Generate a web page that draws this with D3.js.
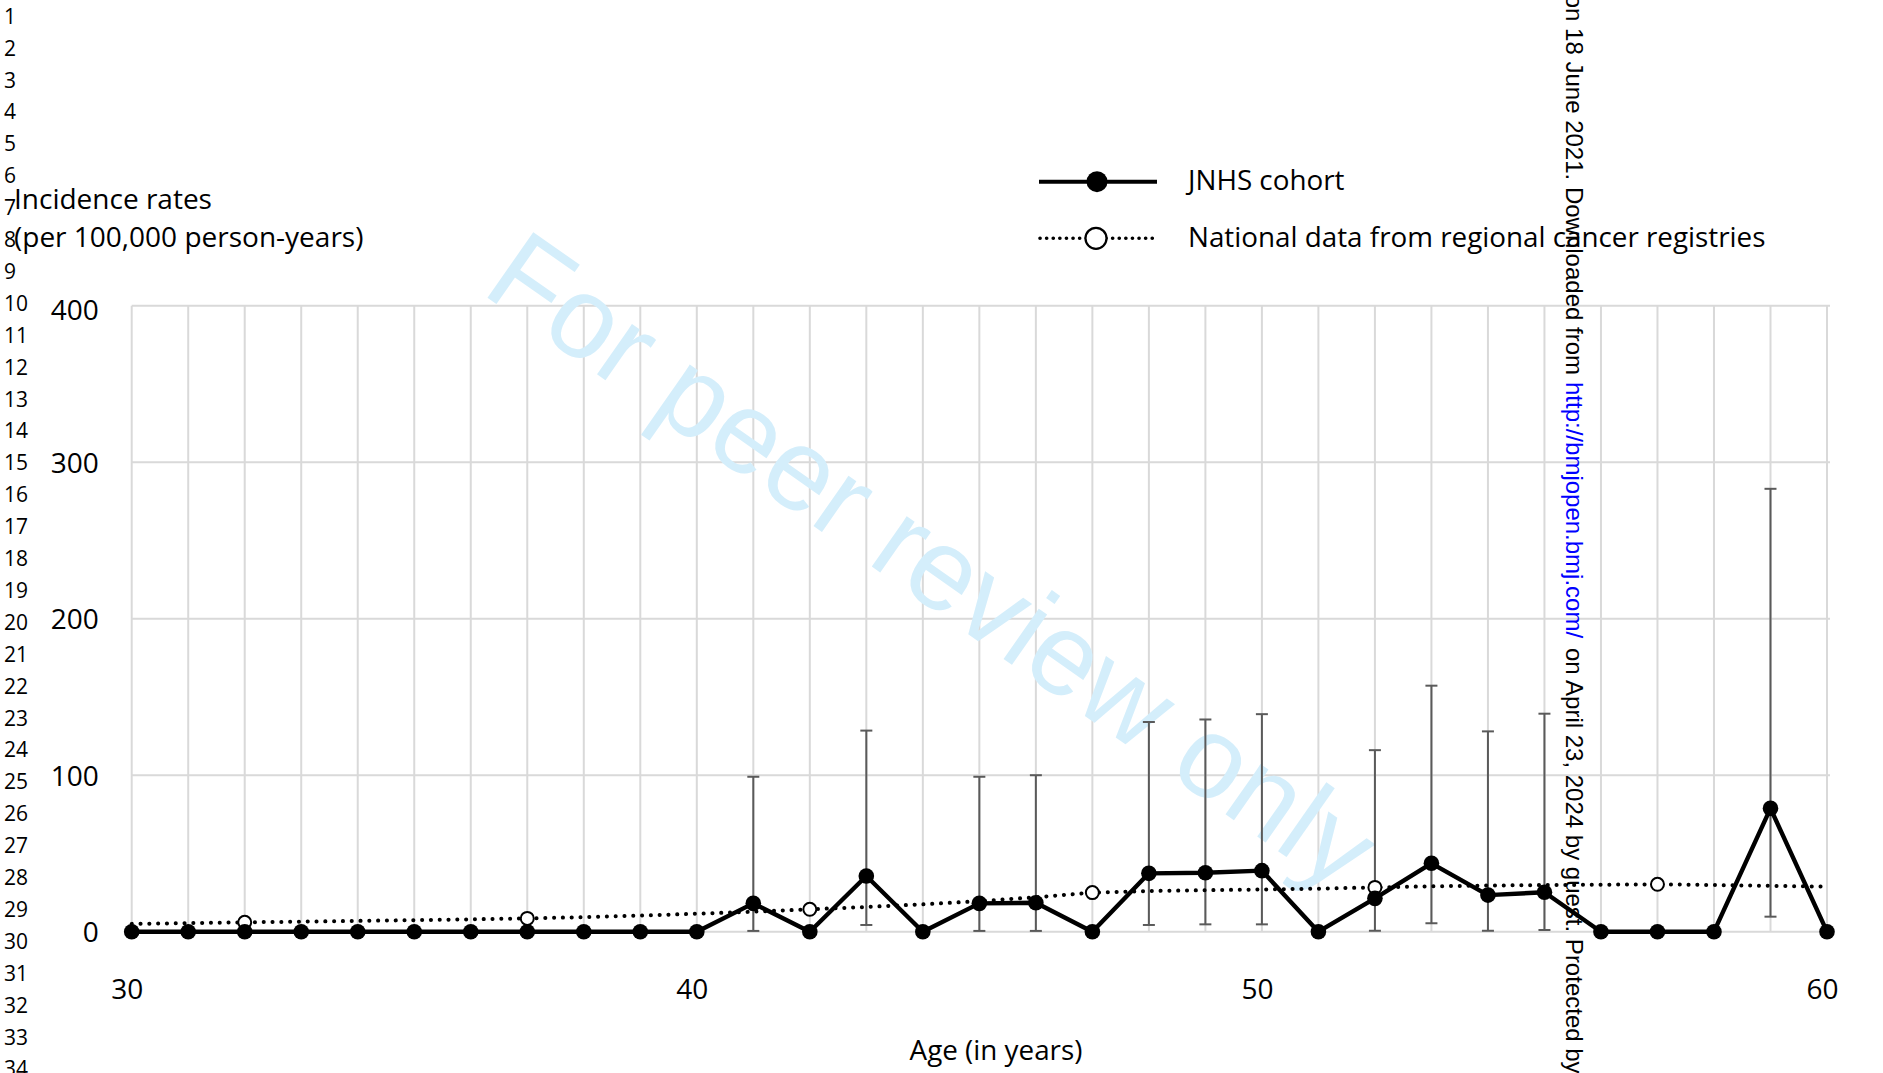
<!DOCTYPE html>
<html>
<head>
<meta charset="utf-8">
<script src="https://cdn.jsdelivr.net/npm/d3@7"></script>
<style>
  html, body { margin: 0; padding: 0; background: #fff; }
  svg { display: block; }
</style>
</head>
<body>
<div id="chart"></div>
<script>
// ages on the x axis (one gridline per year)
const ages = [30, 31, 32, 33, 34, 35, 36, 37, 38, 39, 40, 41, 42, 43, 44, 45,
  46, 47, 48, 49, 50, 51, 52, 53, 54, 55, 56, 57, 58, 59, 60];

// JNHS cohort incidence rate per age
const jnhs = [0, 0, 0, 0, 0, 0, 0, 0, 0, 0, 0, 18.1, 0, 35.6, 0, 18.1,
  18.5, 0, 37.3, 37.7, 39.0, 0, 21.3, 43.7, 23.4, 25.2, 0, 0, 0, 78.8, 0];

// 95% CI for the JNHS cohort (null where no bar is drawn)
const jnhsUpper = [null, null, null, null, null, null, null, null, null, null, null, 99, null, 128.5, null, 99,
  100, null, 134, 135.6, 139, null, 116, 157.2, 128, 139.3, null, null, null, 283, null];
const jnhsLower = [null, null, null, null, null, null, null, null, null, null, null, 0.5, null, 4.3, null, 0.5,
  0.5, null, 4.3, 4.7, 4.7, null, 0.6, 5.4, 0.6, 1.1, null, null, null, 9.6, null];

// national data from regional cancer registries
const national = [5.0, 5.5, 6.0, 6.4, 6.9, 7.4, 7.9, 8.5, 9.3, 10.3, 11.5, 12.8, 14.3, 15.8, 17.5, 19.5,
  22.0, 25.0, 26.0, 26.5, 27.0, 27.5, 28.3, 29.0, 29.5, 29.8, 30.0, 30.3, 29.8, 29.3, 28.8];
const nationalMarkers = [32, 37, 42, 47, 52, 57];

const xTicks = [30, 40, 50, 60];
const yTicks = [0, 100, 200, 300, 400];

const W = 1883, H = 1073;
const margin = { top: 305.7, left: 131.7, right: 56, bottom: 141.3 };

const svg = d3.select('#chart')
  .append('svg')
  .attr('width', W)
  .attr('height', H)
  .style('font-family', "'Open Sans', sans-serif");

svg.append('rect').attr('width', W).attr('height', H).attr('fill', '#fff');

const x = d3.scaleLinear()
  .domain([30, 60])
  .range([margin.left, W - margin.right]);

const y = d3.scaleLinear()
  .domain([0, 400])
  .range([H - margin.bottom, margin.top]);

// manuscript line numbers down the left edge
const lineNos = d3.range(1, 35);
svg.append('g')
  .selectAll('text')
  .data(lineNos)
  .join('text')
  .attr('x', 4)
  .attr('y', d => 303.3 + (d - 10) * 31.9 + 7.5)
  .attr('font-size', 21)
  .attr('fill', '#000')
  .text(d => d);

// gridlines
const grid = svg.append('g').attr('stroke', '#d9d9d9').attr('stroke-width', 2);
grid.selectAll('line.v')
  .data(ages)
  .join('line')
  .attr('class', 'v')
  .attr('x1', d => x(d)).attr('x2', d => x(d))
  .attr('y1', y(0)).attr('y2', y(400));
grid.selectAll('line.h')
  .data(yTicks)
  .join('line')
  .attr('class', 'h')
  .attr('x1', x(30)).attr('x2', x(60) + 3)
  .attr('y1', d => y(d)).attr('y2', d => y(d));

// watermark
svg.append('text')
  .attr('transform', 'translate(930,565) rotate(35)')
  .attr('text-anchor', 'middle')
  .attr('dy', '0.3em')
  .attr('font-family', "'Liberation Sans', Arial, sans-serif")
  .attr('font-size', 116)
  .attr('fill', '#d4eefb')
  .text('For peer review only');

// axes (labels only)
const yAxis = svg.append('g')
  .attr('transform', `translate(${margin.left},0)`)
  .call(d3.axisLeft(y).tickValues(yTicks).tickSize(0).tickPadding(33).tickFormat(d3.format('d')));
yAxis.select('.domain').remove();
yAxis.selectAll('text').attr('font-size', 28).attr('font-family', "'Open Sans', sans-serif").attr('fill', '#000')
  .attr('y', d => d === 400 ? 5 : 1);

const xAxis = svg.append('g')
  .attr('transform', `translate(0,${y(0)})`)
  .call(d3.axisBottom(x).tickValues(xTicks).tickSize(0).tickPadding(47).tickFormat(d3.format('d')));
xAxis.select('.domain').remove();
xAxis.selectAll('text').attr('font-size', 28).attr('font-family', "'Open Sans', sans-serif").attr('fill', '#000').attr('x', -5);

// axis titles
svg.append('text')
  .attr('x', 14).attr('y', 209)
  .attr('font-size', 28)
  .text('Incidence rates');
svg.append('text')
  .attr('x', 14).attr('y', 247)
  .attr('font-size', 28)
  .text('(per 100,000 person-years)');
svg.append('text')
  .attr('x', 996).attr('y', 1060)
  .attr('text-anchor', 'middle')
  .attr('font-size', 27.8)
  .text('Age (in years)');

// error bars
const bars = ages.map((a, i) => ({ a, lo: jnhsLower[i], hi: jnhsUpper[i] })).filter(d => d.hi != null);
const eb = svg.append('g').attr('stroke', '#5a5a5a').attr('stroke-width', 2);
eb.selectAll('line.stem').data(bars).join('line').attr('class', 'stem')
  .attr('x1', d => x(d.a)).attr('x2', d => x(d.a))
  .attr('y1', d => y(d.lo)).attr('y2', d => y(d.hi));
eb.selectAll('line.top').data(bars).join('line').attr('class', 'top')
  .attr('x1', d => x(d.a) - 6).attr('x2', d => x(d.a) + 6)
  .attr('y1', d => y(d.hi)).attr('y2', d => y(d.hi));
eb.selectAll('line.bot').data(bars).join('line').attr('class', 'bot')
  .attr('x1', d => x(d.a) - 6).attr('x2', d => x(d.a) + 6)
  .attr('y1', d => y(d.lo)).attr('y2', d => y(d.lo));

// national dotted line
const natData = ages.map((a, i) => ({ a, v: national[i] }));
const line = d3.line().x(d => x(d.a)).y(d => y(d.v));
svg.append('path')
  .datum(natData)
  .attr('fill', 'none')
  .attr('stroke', '#000')
  .attr('stroke-width', 4)
  .attr('stroke-linecap', 'round')
  .attr('stroke-dasharray', '0.1 8.7')
  .attr('d', line);
svg.append('g')
  .selectAll('circle')
  .data(natData.filter(d => nationalMarkers.includes(d.a)))
  .join('circle')
  .attr('cx', d => x(d.a)).attr('cy', d => y(d.v))
  .attr('r', 6.5)
  .attr('fill', '#fff')
  .attr('stroke', '#000')
  .attr('stroke-width', 2);

// JNHS solid line
const jData = ages.map((a, i) => ({ a, v: jnhs[i] }));
svg.append('path')
  .datum(jData)
  .attr('fill', 'none')
  .attr('stroke', '#000')
  .attr('stroke-width', 4.4)
  .attr('stroke-linejoin', 'round')
  .attr('d', line);
svg.append('g')
  .selectAll('circle')
  .data(jData)
  .join('circle')
  .attr('cx', d => x(d.a)).attr('cy', d => y(d.v))
  .attr('r', 7.8)
  .attr('fill', '#000');

// legend
const leg = svg.append('g');
leg.append('line').attr('x1', 1039).attr('x2', 1157).attr('y1', 181.7).attr('y2', 181.7)
  .attr('stroke', '#000').attr('stroke-width', 4);
leg.append('circle').attr('cx', 1097).attr('cy', 181.7).attr('r', 10.5).attr('fill', '#000');
leg.append('text').attr('x', 1188).attr('y', 190).attr('font-size', 27.8).text('JNHS cohort');
leg.append('line').attr('x1', 1040).attr('x2', 1157).attr('y1', 238.3).attr('y2', 238.3)
  .attr('stroke', '#000').attr('stroke-width', 3.6).attr('stroke-linecap', 'round')
  .attr('stroke-dasharray', '0.1 6.5');
leg.append('circle').attr('cx', 1096).attr('cy', 238.3).attr('r', 10.5).attr('fill', '#fff')
  .attr('stroke', '#000').attr('stroke-width', 2.2);
leg.append('text').attr('x', 1188).attr('y', 247).attr('font-size', 27.8)
  .text('National data from regional cancer registries');

// vertical download notice
const side = svg.append('g').attr('font-family', "'Liberation Sans', Arial, sans-serif").attr('font-size', 24);
side.append('text').attr('transform', 'translate(1566,375) rotate(90)')
  .attr('text-anchor', 'end').attr('fill', '#000')
  .text('on 18 June 2021. Downloaded from');
side.append('text').attr('transform', 'translate(1566,382) rotate(90)')
  .attr('fill', '#0000ff')
  .text('http://bmjopen.bmj.com/');
side.append('text').attr('transform', 'translate(1566,648) rotate(90)')
  .attr('fill', '#000')
  .text('on April 23, 2024 by guest. Protected by');
</script>
</body>
</html>
